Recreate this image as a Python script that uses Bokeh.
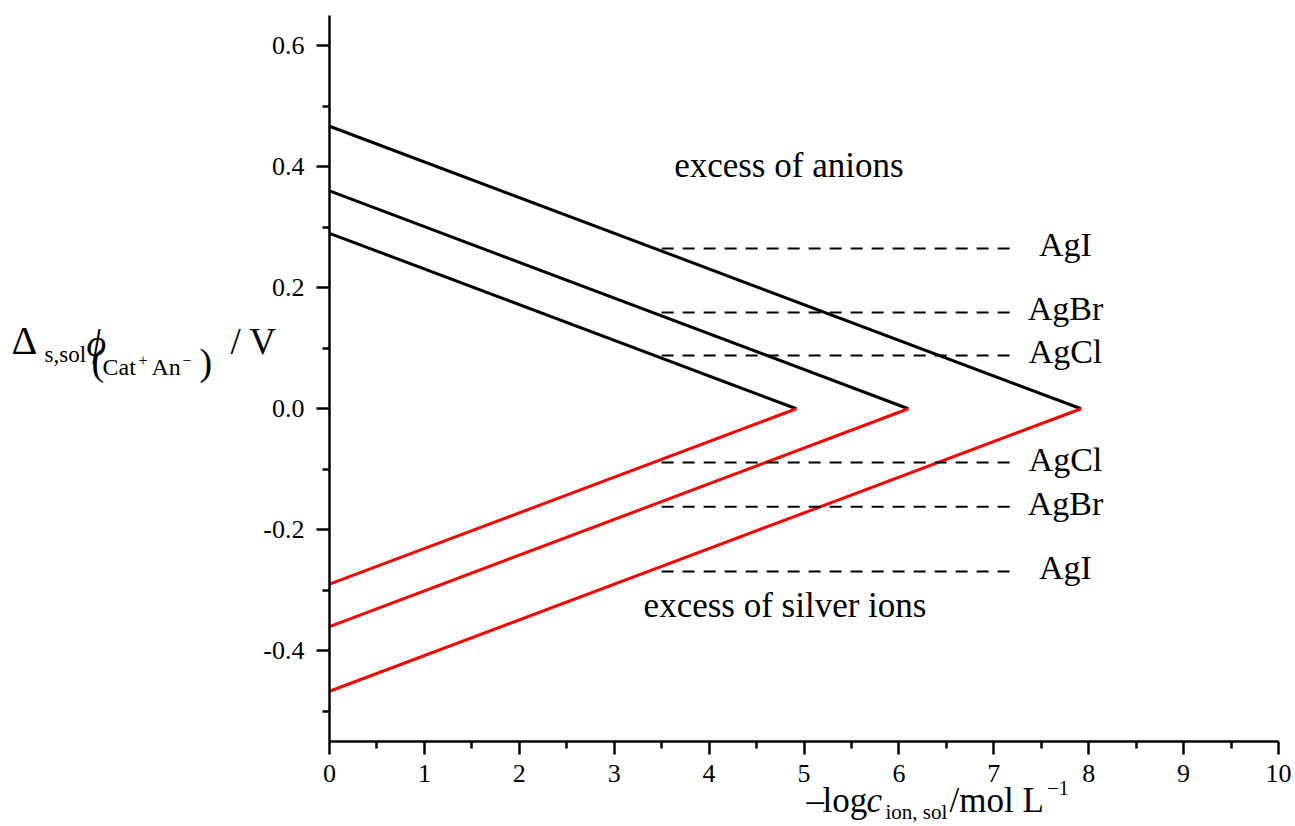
from bokeh.plotting import figure
from bokeh.models import Range1d, FixedTicker, NumeralTickFormatter, GridBox, Column
from bokeh.core.properties import value
from bokeh.embed import file_html
from bokeh.resources import INLINE

# ---- data ----
intercepts = [0.467, 0.360, 0.290]      # y at x=0 (black: +, red: -)
apex_x = [7.92, 6.10, 4.92]             # where lines meet y=0
salt_names = ["AgI", "AgBr", "AgCl"]
levels_pos = [0.265, 0.159, 0.088]
levels_neg = [-0.269, -0.162, -0.089]
dash_x0, dash_x1 = 3.5, 7.18
x_ticks = [0, 1, 2, 3, 4, 5, 6, 7, 8, 9, 10]
y_ticks = [-0.4, -0.2, 0.0, 0.2, 0.4, 0.6]
y_minor = [-0.5, -0.3, -0.1, 0.1, 0.3, 0.5]

X0, X1, Y0, Y1 = 0, 10, -0.55, 0.65
W, H = 1295, 826
L, R, T, B = 329, 17, 15, 85
FONT = "Liberation Serif"
BASE_SHIFT = 0.37   # empirical correction of alphabetic baseline (em)

p = figure(width=W, height=H, output_backend="svg", toolbar_location=None,
           x_range=Range1d(X0, X1), y_range=Range1d(Y0, Y1),
           min_border_left=L, min_border_right=R, min_border_top=T, min_border_bottom=B)
p.outline_line_color = None
p.xgrid.visible = False
p.ygrid.visible = False
p.background_fill_color = "white"
p.border_fill_color = "white"

for ax in (p.xaxis[0], p.yaxis[0]):
    ax.axis_line_width = 2.5
    ax.axis_line_color = "black"
    ax.major_tick_line_width = 2.5
    ax.minor_tick_line_width = 2.5
    ax.major_tick_line_color = "black"
    ax.minor_tick_line_color = "black"
    ax.major_tick_in = 0
    ax.minor_tick_in = 0
    ax.major_tick_out = 13
    ax.minor_tick_out = 7
    ax.major_label_text_font = FONT
    ax.major_label_text_font_size = "26px"
    ax.major_label_text_color = "black"
    ax.major_label_standoff = 10

p.xaxis[0].ticker = FixedTicker(ticks=x_ticks, minor_ticks=[t + 0.5 for t in x_ticks[:-1]])
p.xaxis[0].formatter = NumeralTickFormatter(format="0")
p.yaxis[0].ticker = FixedTicker(ticks=y_ticks, minor_ticks=y_minor)
p.yaxis[0].formatter = NumeralTickFormatter(format="0.0")
p.yaxis[0].major_label_standoff = 12

# ---- lines ----
p.multi_line(xs=[[0, a] for a in apex_x], ys=[[b, 0] for b in intercepts],
             line_color="black", line_width=3)
p.multi_line(xs=[[a, 0] for a in apex_x], ys=[[0, -b] for b in intercepts],
             line_color="#ff0000", line_width=3)

p.segment(x0=[dash_x0] * 3, x1=[dash_x1] * 3, y0=levels_pos, y1=levels_pos,
          line_color="black", line_width=2, line_dash="12 9")
p.segment(x0=[dash_x0] * 3, x1=[dash_x1] * 3, y0=levels_neg, y1=levels_neg,
          line_color="black", line_width=2, line_dash="12 9")

for lv in (levels_pos, levels_neg):
    p.text(x=[7.755] * 3, y=lv, text=salt_names, text_align="center",
           text_baseline="alphabetic", y_offset=9 - BASE_SHIFT * 34,
           text_font=value(FONT), text_font_size="34px", text_color="black")

p.text(x=[4.84], y=[0.381], text=["excess of anions"], text_align="center",
       text_baseline="alphabetic", y_offset=-BASE_SHIFT * 35, text_font=value(FONT),
       text_font_size="35px", text_color="black")
p.text(x=[4.80], y=[-0.346], text=["excess of silver ions"], text_align="center",
       text_baseline="alphabetic", y_offset=-BASE_SHIFT * 35, text_font=value(FONT),
       text_font_size="35px", text_color="black")

# ---- transparent overlay for the composed axis titles (pixel coordinates) ----
ov = figure(width=W, height=H, output_backend="svg", toolbar_location=None,
            x_range=Range1d(0, W), y_range=Range1d(H, 0),
            x_axis_location=None, y_axis_location=None, min_border=0)
ov.outline_line_color = None
ov.background_fill_color = None
ov.border_fill_color = None
ov.xgrid.visible = False
ov.ygrid.visible = False


def lab(px, py, txt, size, style="normal"):
    ov.text(x=[px], y=[py], text=[txt], text_font=value(FONT),
            text_font_size=f"{size}px", text_font_style=style,
            text_baseline="alphabetic", text_align="left", text_color="black",
            y_offset=-BASE_SHIFT * size)


# y-axis title
lab(11, 355, "Δ", 40)
lab(44, 363, "s,sol", 23)
lab(86, 357, "ϕ", 38, "italic")
lab(91, 376, "(", 38)
lab(102, 375, "Cat", 24)
lab(138, 366, "+", 16)
lab(151, 375, "An", 24)
lab(182, 366, "−", 16)
lab(199, 376, ")", 38)
lab(230, 355, "/ V", 37)

# x-axis title
lab(806, 813, "–", 35)
lab(822, 813, "log", 35)
lab(866, 813, "c", 35, "italic")
lab(885, 819, "ion, sol", 21)
lab(949, 813, "/mol L", 35)
lab(1047, 795, "−1", 20)

grid = GridBox(children=[(Column(children=[p]), 0, 0), (Column(children=[ov]), 0, 0)])
open("out.html", "w").write(file_html(grid, INLINE))
